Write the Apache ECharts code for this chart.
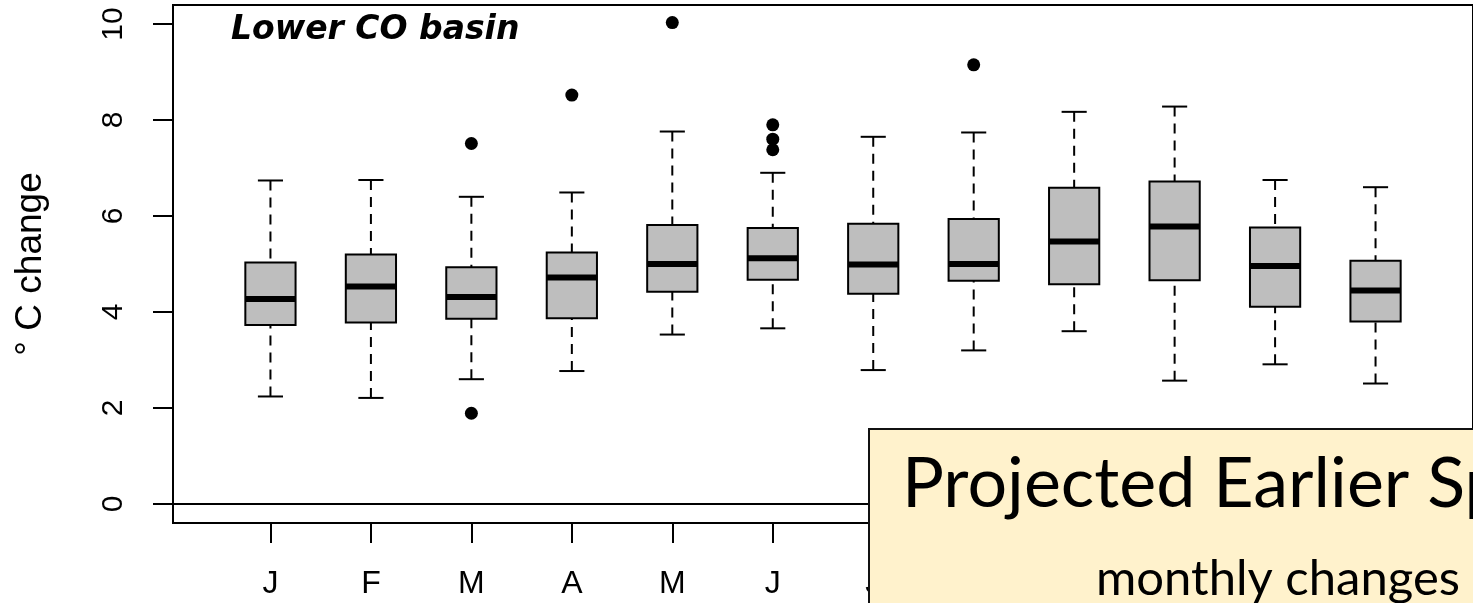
<!DOCTYPE html>
<html>
<head>
<meta charset="utf-8">
<script src="https://cdn.jsdelivr.net/npm/echarts@6/dist/echarts.min.js"></script>
<style>
html,body{margin:0;padding:0;background:#fff;}
#chart{width:1473px;height:603px;}
</style>
</head>
<body>
<div id="chart"></div>
<script>
// ---- data ----
const months = ['J','F','M','A','M','J','J','A','S','O','N','D'];
const lowerWhisker = [2.24, 2.21, 2.60, 2.77, 3.53, 3.66, 2.79, 3.20, 3.60, 2.57, 2.91, 2.51];
const q1           = [3.73, 3.78, 3.86, 3.87, 4.42, 4.67, 4.38, 4.65, 4.58, 4.66, 4.11, 3.80];
const median       = [4.27, 4.53, 4.31, 4.72, 5.00, 5.12, 4.99, 5.00, 5.47, 5.78, 4.96, 4.45];
const q3           = [5.03, 5.20, 4.93, 5.24, 5.81, 5.75, 5.84, 5.94, 6.59, 6.72, 5.76, 5.07];
const upperWhisker = [6.74, 6.75, 6.40, 6.49, 7.76, 6.90, 7.65, 7.74, 8.17, 8.28, 6.75, 6.60];
const outlierMonth = [3, 3, 4, 5, 6, 6, 6, 8];
const outlierValue = [7.51, 1.89, 8.52, 10.03, 7.90, 7.60, 7.38, 9.15];
const yTicks = [0, 2, 4, 6, 8, 10];
const xTicks = [1,2,3,4,5,6,7,8,9,10,11,12];
const plotTitle = 'Lower CO basin';
const yName = '\u00B0 C change';
const boxTitle = 'Projected Earlier Sp';
const boxSubtitle = 'monthly changes';

const boxData = months.map((m, i) => [i + 1, lowerWhisker[i], q1[i], median[i], q3[i], upperWhisker[i]]);
const outData = outlierMonth.map((m, i) => [m, outlierValue[i]]);

const FONT = 'Liberation Sans, Arial, Helvetica, sans-serif';

function renderBox(params, api) {
  const x = api.value(0);
  const pLo = api.coord([x, api.value(1)]);
  const pQ1 = api.coord([x, api.value(2)]);
  const pMed = api.coord([x, api.value(3)]);
  const pQ3 = api.coord([x, api.value(4)]);
  const pHi = api.coord([x, api.value(5)]);
  const bw = api.size([0.5, 0])[0];
  const sw = bw / 2;
  const cx = pMed[0];
  const black = '#000';
  return {
    type: 'group',
    children: [
      { type: 'line', shape: { x1: cx, y1: pLo[1], x2: cx, y2: pQ1[1] },
        style: { stroke: black, lineWidth: 2, lineDash: [10, 7] } },
      { type: 'line', shape: { x1: cx, y1: pHi[1], x2: cx, y2: pQ3[1] },
        style: { stroke: black, lineWidth: 2, lineDash: [10, 7] } },
      { type: 'line', shape: { x1: cx - sw / 2, y1: pLo[1], x2: cx + sw / 2, y2: pLo[1] },
        style: { stroke: black, lineWidth: 2 } },
      { type: 'line', shape: { x1: cx - sw / 2, y1: pHi[1], x2: cx + sw / 2, y2: pHi[1] },
        style: { stroke: black, lineWidth: 2 } },
      { type: 'rect', shape: { x: cx - bw / 2, y: pQ3[1], width: bw, height: pQ1[1] - pQ3[1] },
        style: { fill: '#BEBEBE', stroke: black, lineWidth: 2 } },
      { type: 'line', shape: { x1: cx - bw / 2, y1: pMed[1], x2: cx + bw / 2, y2: pMed[1] },
        style: { stroke: black, lineWidth: 6, lineCap: 'butt' } }
    ]
  };
}

const chart = echarts.init(document.getElementById('chart'), null, { renderer: 'canvas' });
chart.setOption({
  animation: false,
  backgroundColor: '#fff',
  title: {
    text: plotTitle,
    left: 226,
    top: 9,
    textStyle: { fontFamily: 'DejaVu Sans', fontWeight: 'bold', fontStyle: 'italic', fontSize: 33, color: '#000' }
  },
  grid: {
    left: 173, top: 5, width: 1306, height: 518,
    show: true, borderColor: '#000', borderWidth: 2, backgroundColor: 'transparent'
  },
  xAxis: {
    type: 'value', min: 0.03, max: 12.97,
    axisLine: { show: false, onZero: false },
    splitLine: { show: false },
    axisTick: { show: true, inside: false, customValues: xTicks, length: 20, lineStyle: { color: '#000', width: 2 } },
    axisLabel: {
      show: true, customValues: xTicks, margin: 45,
      formatter: v => months[Math.round(v) - 1],
      fontFamily: FONT, fontSize: 32, color: '#000'
    }
  },
  yAxis: {
    type: 'value', min: -0.396, max: 10.396,
    name: yName, nameLocation: 'middle', nameRotate: 90, nameGap: 124,
    nameTextStyle: { fontFamily: FONT, fontSize: 37, color: '#000' },
    axisLine: { show: false, onZero: false },
    splitLine: { show: false },
    axisTick: { show: true, inside: false, customValues: yTicks, length: 20, lineStyle: { color: '#000', width: 2 } },
    axisLabel: {
      show: true, customValues: yTicks, rotate: 90, margin: 44,
      fontFamily: FONT, fontSize: 30, color: '#000'
    }
  },
  series: [
    {
      type: 'custom',
      name: 'box',
      renderItem: renderBox,
      data: boxData,
      encode: { x: 0, y: [1, 2, 3, 4, 5] },
      z: 3,
      markLine: {
        silent: true, symbol: 'none', animation: false,
        label: { show: false },
        lineStyle: { color: '#000', width: 2, type: 'solid' },
        data: [{ yAxis: 0 }]
      }
    },
    {
      type: 'scatter',
      name: 'outliers',
      data: outData,
      symbol: 'circle',
      symbolSize: 13,
      itemStyle: { color: '#000', opacity: 1 },
      z: 4
    }
  ],
  graphic: [
    {
      type: 'rect', z: 100, left: 868, top: 428,
      shape: { width: 700, height: 300 },
      style: { fill: '#FFF2CC', stroke: '#111', lineWidth: 2 }
    },
    {
      type: 'text', z: 101, left: 902, top: 449,
      style: { text: boxTitle, fontFamily: 'Lato', fontSize: 70, fill: '#000' }
    },
    {
      type: 'text', z: 101, left: 1096, top: 555,
      style: { text: boxSubtitle, fontFamily: 'Lato', fontSize: 49, fill: '#000' }
    }
  ]
});
</script>
</body>
</html>
